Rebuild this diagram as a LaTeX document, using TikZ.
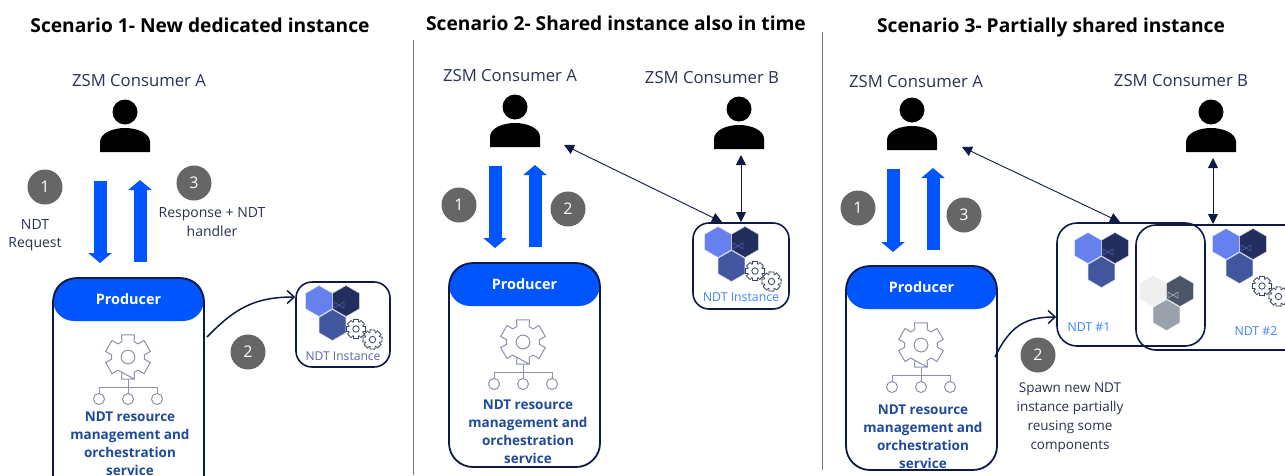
\documentclass[tikz,border=0pt]{standalone}
\usepackage{fontspec}
\setmainfont{Open Sans}
\usetikzlibrary{arrows.meta}
\definecolor{navy}{HTML}{0E1A45}
\definecolor{txt}{HTML}{2A3350}
\definecolor{blueh}{HTML}{0055FF}
\definecolor{boldb}{HTML}{1F4A9A}
\definecolor{ndtb}{HTML}{3F82FF}
\definecolor{hexa}{HTML}{6680EE}
\definecolor{hexb}{HTML}{232D5E}
\definecolor{hexc}{HTML}{42559F}
\definecolor{iconc}{HTML}{3A4260}
\definecolor{iconl}{HTML}{8C92AA}
\definecolor{greyd}{HTML}{4A5568}
\definecolor{greym}{HTML}{99A1AB}
\definecolor{greyl}{HTML}{EEEEEE}
\tikzset{
 titlet/.style={font=\fontsize{19.2}{22}\selectfont\bfseries,text=black,inner sep=0,anchor=base},
 constext/.style={font=\fontsize{16.7}{20}\selectfont,text=txt,inner sep=0},
 smalltext/.style={font=\fontsize{14}{18.5}\selectfont,text=txt,align=center,inner sep=0},
 spawntext/.style={font=\fontsize{13.5}{19}\selectfont,text=txt,align=center,inner sep=0},
 numdot/.style={circle,fill=black!60,text=white,minimum size=35pt,inner sep=0,font=\fontsize{16}{18}\selectfont},
 prodbox/.style={draw=navy,line width=1.8pt,rounded corners=24pt,minimum width=151pt,inner sep=0},
 prodhead/.style={fill=blueh,rounded corners=21pt,minimum width=151pt,minimum height=43pt,inner sep=0,text=white,font=\fontsize{14.4}{16}\selectfont\bfseries},
 servtext/.style={font=\fontsize{13.5}{18}\selectfont\bfseries,text=boldb,align=center,inner sep=0},
 ndtbox/.style={draw=navy,line width=1.6pt,rounded corners=16pt,inner sep=0},
 ndtlabel/.style={font=\fontsize{12.3}{14}\selectfont,text=ndtb,inner sep=0},
 blockarrow/.style={draw=blueh,line width=13pt,-{Triangle[length=10pt,width=23pt]}},
 thinlink/.style={draw=navy,line width=0.9pt,{Triangle[length=10pt,width=10pt]}-{Triangle[length=10pt,width=10pt]}},
 spawnlink/.style={draw=navy,line width=1.5pt,-{Straight Barb[length=7pt,width=13pt]}},
 rulev/.style={draw=black!55,line width=0.9pt},
}
\newcommand{\persona}[2]{%
 \begin{scope}[shift={(#1,#2)}]
 \fill[black] (0,-16) circle (12.5);
 \fill[black] (-25,24) -- (-25,14) .. controls (-25,5) and (-12,0) .. (0,0) .. controls (12,0) and (25,5) .. (25,14) -- (25,24) -- cycle;
 \end{scope}}
\newcommand{\onehex}[3]{%
 \begin{scope}[shift={(#1,#2)}]
 \fill[#3,draw=white!80!#3,line width=0.5pt] (0,-15.5) -- (13.4,-7.75) -- (13.4,7.75) -- (0,15.5) -- (-13.4,7.75) -- (-13.4,-7.75) -- cycle;
 \end{scope}}
\newcommand{\hexmark}[3]{%
 \draw[#3,line width=0.8pt,line join=round] (#1-5,#2-3) -- (#1+5,#2+3) -- (#1+5,#2-3) -- (#1-5,#2+3) -- cycle;}
\newcommand{\hexgroup}[5]{%
 \onehex{#1}{#2}{#3}\onehex{#1+27}{#2}{#4}\onehex{#1+13.5}{#2+24}{#5}%
 \hexmark{#1+20}{#2+4}{hexc}}
\newcommand{\gearshape}[3]{%
 \begin{scope}[shift={(#1,#2)},scale=#3]
 \draw[iconc,line width=0.8pt,fill=white,line join=round] (75:1) \foreach \a in {0,45,...,315} { -- (\a+75:1) -- (\a+105:.98) -- (\a+110:.74) -- (\a+115:.74)} -- cycle;
 \draw[iconc,line width=0.8pt] (0,0) circle (.32);
 \end{scope}}
\newcommand{\gearpair}[2]{\gearshape{#1}{#2}{10}\gearshape{#1+16.5}{#2+10.5}{10}}
\newcommand{\treeicon}[2]{%
 \begin{scope}[shift={(#1,#2)}]
 \begin{scope}[scale=23]
 \draw[iconl,line width=1pt,line join=round] (74:1) \foreach \a in {90,150,...,450} { -- (\a-16:1) -- (\a+16:1) -- (\a+22:.72) -- (\a+38:.72)} -- cycle;
 \draw[iconl,line width=1pt] (0,0) circle (.3);
 \end{scope}
 \draw[iconl,line width=1pt] (0,23) -- (0,36);
 \draw[iconl,line width=1pt] (-29,42) -- (-29,30) -- (29,30) -- (29,42) (0,36) -- (0,42);
 \foreach \u in {-29,0,29} \draw[iconl,line width=1pt,fill=white] (\u,42) circle (5.5);
 \end{scope}}
\begin{document}
\begin{tikzpicture}[x=1pt,y=-1pt]
\useasboundingbox (0,0) rectangle (1285,475);
\clip (0,0) rectangle (1285,475);
\fill[white] (0,0) rectangle (1285,475);

% titles
\node[titlet] (t1) at (200,32) {Scenario 1- New dedicated instance};
\node[titlet] (t2) at (616,30) {Scenario 2- Shared instance also in time};
\node[titlet] (t3) at (1051,32) {Scenario 3- Partially shared instance};
\coordinate (r1a) at (413,40); \coordinate (r1b) at (413,475);
\coordinate (r2a) at (822,32); \coordinate (r2b) at (822,470);
\draw[rulev] (r1a) -- (r1b);
\draw[rulev] (r2a) -- (r2b);

% ---------- scenario 1
\node[constext] (c1a) at (139,81) {ZSM Consumer A};
\persona{125}{128}
\coordinate (d1s) at (100,181); \coordinate (d1e) at (100,263);
\coordinate (u1s) at (140,262); \coordinate (u1e) at (140,180);
\draw[blockarrow] (d1s) -- (d1e);
\draw[blockarrow] (u1s) -- (u1e);
\node[numdot] (n11) at (45,187) {1};
\node[numdot] (n13) at (194,183) {3};
\node[numdot] (n12) at (248,352) {2};
\node[smalltext] (l11) at (35,235) {NDT\\Request};
\node[smalltext] (l13) at (212,222) {Response + NDT\\handler};
\node[prodhead] (ph1) at (128.5,299.5) {\raisebox{-1pt}{Producer}};
\node[prodbox,minimum height=222pt] (pb1) at (128.5,389) {};
\treeicon{128}{357}
\node[servtext] (s1) at (130,443.5) {NDT resource\\management and\\orchestration\\service};
\node[ndtbox,minimum width=94pt,minimum height=85pt] (i1) at (343,324.5) {};
\hexgroup{319}{301}{hexa}{hexb}{hexc}
\gearpair{356}{329}
\node[font=\fontsize{12.1}{14}\selectfont,text=hexc!90,inner sep=0] (il1) at (343,356) {NDT Instance};
\coordinate (cs1) at (207,337);
\draw[spawnlink] (cs1) .. controls (235,308) and (255,297) .. (i1.west |- 0,297);

% ---------- scenario 2
\node[constext] (c2a) at (510,76) {ZSM Consumer A};
\node[constext] (c2b) at (712,78) {ZSM Consumer B};
\persona{515}{123}
\persona{739}{125}
\coordinate (d2s) at (495,166); \coordinate (d2e) at (495,248);
\coordinate (u2s) at (535,247); \coordinate (u2e) at (535,165);
\draw[blockarrow] (d2s) -- (d2e);
\draw[blockarrow] (u2s) -- (u2e);
\node[numdot] (n21) at (459,205) {1};
\node[numdot] (n22) at (568,209) {2};
\node[prodhead] (ph2) at (524.5,284.5) {\raisebox{-1pt}{Producer}};
\node[prodbox,minimum height=204pt] (pb2) at (524.5,365) {};
\treeicon{523}{342}
\node[servtext] (s2) at (528,432) {NDT resource\\management and\\orchestration\\service};
\node[ndtbox,minimum width=96pt,minimum height=86pt] (i2) at (741,266) {};
\hexgroup{718}{242}{hexa}{hexb}{hexc}
\gearpair{755}{271}
\node[ndtlabel] (il2) at (741,297) {NDT Instance};
\coordinate (a2a) at (564,145); \coordinate (a2b) at (722,222);
\coordinate (b2a) at (741,155); \coordinate (b2b) at (741,222);
\draw[thinlink] (a2a) -- (a2b);
\draw[thinlink] (b2a) -- (b2b);

% ---------- scenario 3
\node[constext] (c3a) at (916,82) {ZSM Consumer A};
\node[constext] (c3b) at (1181,81) {ZSM Consumer B};
\persona{912}{126}
\persona{1211}{128}
\coordinate (d3s) at (893,169); \coordinate (d3e) at (893,252);
\coordinate (u3s) at (933,250); \coordinate (u3e) at (933,168);
\draw[blockarrow] (d3s) -- (d3e);
\draw[blockarrow] (u3s) -- (u3e);
\node[numdot] (n31) at (858,208) {1};
\node[numdot] (n33) at (964,215) {3};
\node[numdot] (n32) at (1038,355) {2};
\node[prodhead] (ph3) at (921.5,287.5) {\raisebox{-1pt}{Producer}};
\node[prodbox,minimum height=204pt] (pb3) at (921.5,368) {};
\treeicon{921}{345}
\node[servtext] (s3) at (923,437) {NDT resource\\management and\\orchestration\\service};
\node[spawntext] (l32) at (1070,418) {Spawn new NDT\\instance partially\\reusing some\\components};
\node[ndtbox,rounded corners=20pt,minimum width=148pt,minimum height=123pt] (i31) at (1131,284.5) {};
\node[ndtbox,rounded corners=20pt,minimum width=170pt,minimum height=125pt] (i32) at (1221,287.5) {};
\hexgroup{1088}{248}{hexa}{hexb}{hexc}
\onehex{1153}{291}{greyl}\onehex{1180}{291}{greyd}\onehex{1166.5}{315}{greym}
\hexmark{1173}{295}{greym}
\hexgroup{1226}{244}{hexa}{hexb}{hexc}
\gearpair{1262}{286}
\node[ndtlabel] (il31) at (1089,327) {NDT \#1};
\node[ndtlabel] (il32) at (1256,331) {NDT \#2};
\coordinate (cs3) at (995,357);
\draw[spawnlink] (cs3) .. controls (1010,326) and (1025,317) .. (i31.west |- 0,317);
\coordinate (a3a) at (962,147); \coordinate (a3b) at (1120,222);
\coordinate (b3a) at (1213,158); \coordinate (b3b) at (1213,224);
\draw[thinlink] (a3a) -- (a3b);
\draw[thinlink] (b3a) -- (b3b);
\end{tikzpicture}
\end{document}
